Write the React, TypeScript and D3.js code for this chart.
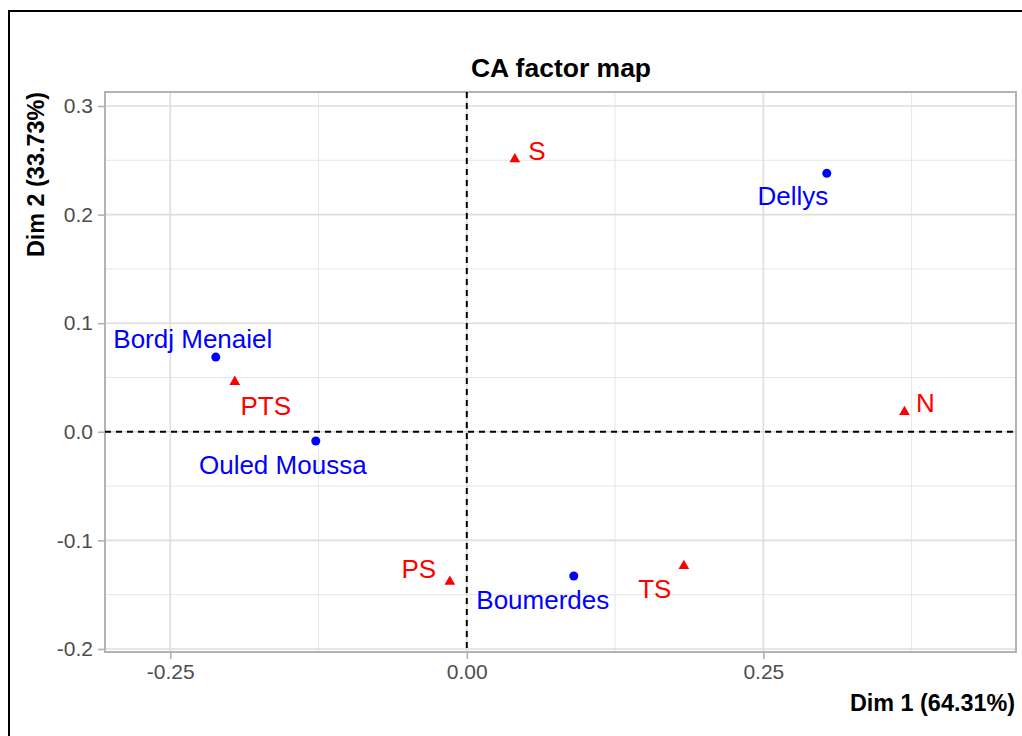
import { useEffect, useRef } from 'react';
import * as d3 from 'd3';

// rows (sites) – blue dots
const rowNames = ['Dellys', 'Bordj Menaiel', 'Ouled Moussa', 'Boumerdes'];
const rowDim1 = [0.3035, -0.2116, -0.1273, 0.0902];
const rowDim2 = [0.238, 0.0688, -0.0085, -0.1328];

// columns – red triangles
const colNames = ['S', 'PTS', 'N', 'PS', 'TS'];
const colDim1 = [0.0405, -0.1956, 0.369, -0.0143, 0.183];
const colDim2 = [0.251, 0.046, 0.0182, -0.138, -0.1235];

const xTicks = [-0.25, 0, 0.25];
const xMinor = [-0.125, 0.125, 0.375];
const yTicks = [-0.2, -0.1, 0, 0.1, 0.2, 0.3];
const yMinor = [-0.15, -0.05, 0.05, 0.15, 0.25];

// label offsets (px) like ggrepel placed them
const labelOffset: Record<string, [number, number]> = {
  'Dellys': [-34, 23],
  'Bordj Menaiel': [-23, -18],
  'Ouled Moussa': [-33, 24],
  'Boumerdes': [-31, 24],
  'S': [22, -8],
  'PTS': [31, 24],
  'N': [21, -9],
  'PS': [-31, -13],
  'TS': [-29, 23],
};

const App = () => {
  const ref = useRef<SVGSVGElement>(null);

  useEffect(() => {
    const svg = d3.select(ref.current);
    svg.selectAll('*').remove();
    const W = 1022, H = 736;
    const left = 105, right = 1016, top = 92, bottom = 652;
    const font = 'Liberation Sans, Arial, sans-serif';

    const x = d3.scaleLinear().domain([-0.305, 0.463]).range([left, right]);
    const y = d3.scaleLinear().domain([-0.2028, 0.3129]).range([bottom, top]);

    svg.append('rect').attr('width', W).attr('height', H).attr('fill', '#fff');
    // outer frame
    svg.append('rect')
      .attr('x', 9).attr('y', 11).attr('width', W + 20).attr('height', H + 20)
      .attr('fill', 'none').attr('stroke', '#000').attr('stroke-width', 2);

    const grid = svg.append('g');
    xMinor.forEach(v => grid.append('line')
      .attr('x1', x(v)).attr('x2', x(v)).attr('y1', top).attr('y2', bottom)
      .attr('stroke', '#e6e6e6').attr('stroke-width', 1));
    yMinor.forEach(v => grid.append('line')
      .attr('y1', y(v)).attr('y2', y(v)).attr('x1', left).attr('x2', right)
      .attr('stroke', '#e6e6e6').attr('stroke-width', 1));
    xTicks.forEach(v => grid.append('line')
      .attr('x1', x(v)).attr('x2', x(v)).attr('y1', top).attr('y2', bottom)
      .attr('stroke', '#dedede').attr('stroke-width', 1.6));
    yTicks.forEach(v => grid.append('line')
      .attr('y1', y(v)).attr('y2', y(v)).attr('x1', left).attr('x2', right)
      .attr('stroke', '#dedede').attr('stroke-width', 1.6));

    // axes
    const xAxis = svg.append('g')
      .attr('transform', `translate(0,${bottom})`)
      .call(d3.axisBottom(x).tickValues(xTicks).tickSize(7).tickPadding(5));
    const yAxis = svg.append('g')
      .attr('transform', `translate(${left},0)`)
      .call(d3.axisLeft(y).tickValues(yTicks).tickSize(7).tickPadding(5));
    [xAxis, yAxis].forEach(a => {
      a.select('.domain').remove();
      a.selectAll('line').attr('stroke', '#b3b3b3').attr('stroke-width', 1.6);
      a.selectAll('text').attr('fill', '#4d4d4d').attr('font-size', 21).attr('font-family', font);
    });
    xAxis.selectAll('text').text(d => d3.format('.2f')(d as number).replace('−', '-'));
    yAxis.selectAll('text').text(d => d3.format('.1f')(d as number).replace('−', '-'));

    // panel border
    svg.append('rect')
      .attr('x', left).attr('y', top).attr('width', right - left).attr('height', bottom - top)
      .attr('fill', 'none').attr('stroke', '#b3b3b3').attr('stroke-width', 2);

    // origin dashed lines
    svg.append('line')
      .attr('x1', x(0)).attr('x2', x(0)).attr('y1', top).attr('y2', bottom)
      .attr('stroke', '#000').attr('stroke-width', 2).attr('stroke-dasharray', '6,5');
    svg.append('line')
      .attr('x1', left).attr('x2', right).attr('y1', y(0)).attr('y2', y(0))
      .attr('stroke', '#000').attr('stroke-width', 2).attr('stroke-dasharray', '6,5');

    // rows
    rowNames.forEach((n, i) => {
      const px = x(rowDim1[i]), py = y(rowDim2[i]);
      svg.append('circle').attr('cx', px).attr('cy', py).attr('r', 4.5).attr('fill', '#0000ff');
      const [dx, dy] = labelOffset[n];
      svg.append('text').attr('x', px + dx).attr('y', py + dy)
        .attr('text-anchor', 'middle').attr('dominant-baseline', 'central')
        .attr('font-size', 26).attr('font-family', font).attr('fill', '#0000ff').text(n);
    });

    // columns
    const tri = d3.symbol().type(d3.symbolTriangle).size(50);
    colNames.forEach((n, i) => {
      const px = x(colDim1[i]), py = y(colDim2[i]);
      svg.append('path').attr('d', tri()).attr('transform', `translate(${px},${py})`).attr('fill', '#ff0000');
      const [dx, dy] = labelOffset[n];
      svg.append('text').attr('x', px + dx).attr('y', py + dy)
        .attr('text-anchor', 'middle').attr('dominant-baseline', 'central')
        .attr('font-size', 26).attr('font-family', font).attr('fill', '#ff0000').text(n);
    });

    // titles
    svg.append('text').attr('x', (left + right) / 2 + 0.5).attr('y', 68)
      .attr('text-anchor', 'middle').attr('dominant-baseline', 'central')
      .attr('font-size', 26.5).attr('font-weight', 'bold').attr('font-family', font).text('CA factor map');
    svg.append('text').attr('x', right - 1).attr('y', 703)
      .attr('text-anchor', 'end').attr('dominant-baseline', 'central')
      .attr('font-size', 23.4).attr('font-weight', 'bold').attr('font-family', font).text('Dim 1 (64.31%)');
    svg.append('text').attr('transform', `translate(36,${top}) rotate(-90)`)
      .attr('text-anchor', 'end').attr('dominant-baseline', 'central')
      .attr('font-size', 23.4).attr('font-weight', 'bold').attr('font-family', font).text('Dim 2 (33.73%)');
  }, []);

  return (
    <svg ref={ref} width={1022} height={736}
      style={{ position: 'absolute', left: 0, top: 0, display: 'block' }} />
  );
};

export default App;
